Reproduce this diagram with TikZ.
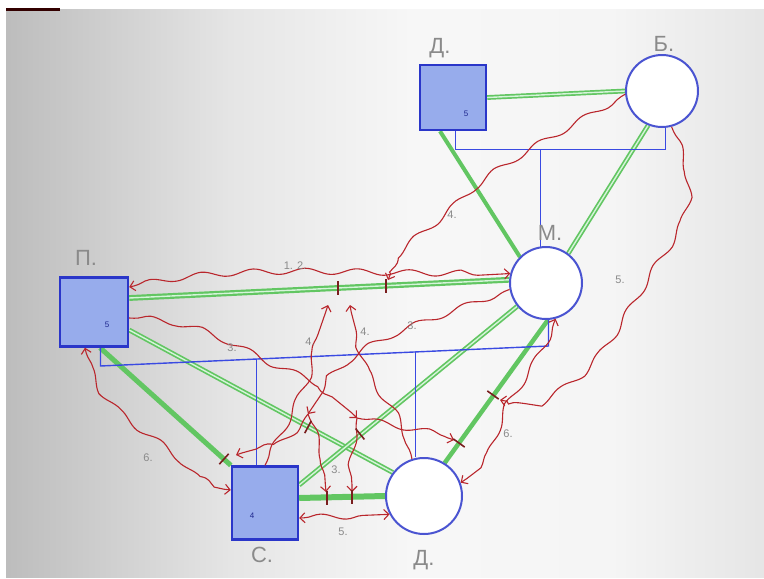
\documentclass[tikz,border=0pt]{standalone}
\usepackage{fontspec}
\setmainfont{Liberation Sans}
\usetikzlibrary{arrows.meta,decorations.pathmorphing,backgrounds,calc}
\definecolor{gr}{HTML}{62C662}
\definecolor{grin}{HTML}{D6F4DA}
\definecolor{bl}{HTML}{2A36C9}
\definecolor{blf}{HTML}{97ACEC}
\definecolor{busc}{HTML}{3A4AE2}
\definecolor{rd}{HTML}{B9262C}
\definecolor{tk}{HTML}{7A1E1E}
\definecolor{lbl}{HTML}{8A8A8A}
\pgfdeclarehorizontalshading{paper}{100bp}{color(0bp)=(black!26); color(25bp)=(black!26); color(40bp)=(black!10); color(52bp)=(black!3); color(65bp)=(black!4); color(75bp)=(black!10); color(100bp)=(black!10)}
\begin{document}
\begin{tikzpicture}[x=1pt,y=-1pt,
  sq/.style={draw=bl, fill=blf, line width=2.4pt, inner sep=0pt},
  circ/.style={circle, draw=bl!85!white, fill=white, line width=2pt, inner sep=0pt},
  gdbl/.style={draw=gr, line width=1.7pt, double=grin, double distance=1.4pt},
  gthick/.style={draw=gr, line width=4.5pt},
  busln/.style={draw=busc, line width=1.4pt},
  wav/.style={draw=rd, line width=1.1pt, decorate,
    decoration={snake, amplitude=3pt, segment length=52pt, pre length=5pt, post length=7pt}},
  >={Straight Barb[length=5pt,width=10pt]},
  tick/.style={draw=tk, line width=1.6pt},
  lab/.style={text=lbl, font=\fontsize{22}{22}\selectfont},
  num/.style={text=lbl, font=\fontsize{11}{11}\selectfont},
  inner/.style={text=bl!70!black, font=\fontsize{8}{8}\selectfont}
]
\useasboundingbox (0,0) rectangle (764,579);

% nodes
\node[sq, minimum width=66pt, minimum height=65pt] (D1) at (453,97.5) {};
\node[circ, minimum size=72pt] (B) at (662,91) {};
\node[circ, minimum size=72pt] (M) at (546,283) {};
\node[sq, minimum width=68pt, minimum height=69pt] (P) at (94,312) {};
\node[sq, minimum width=66pt, minimum height=73pt] (S) at (265,503) {};
\node[circ, minimum size=76pt] (D2) at (424,496) {};

\node[inner] (iD1) at (466,114) {5};
\node[inner] (iP) at (107,325) {5};
\node[inner] (iS) at (252,516) {4};

% labels
\node[lab] (lD1) at (440,48) {Д.};
\node[lab] (lB) at (664,44) {Б.};
\node[lab] (lM) at (550,233) {М.};
\node[lab] (lP) at (86,258) {П.};
\node[lab] (lS) at (262,555) {С.};
\node[lab] (lD2) at (424,560) {Д.};

\begin{scope}[on background layer]
  \fill[white] (0,0) rectangle (764,579);
  \shade[shading=paper] (6,9) rectangle (764,577);
  \fill[black!80!red] (6,8) rectangle (60,10.5);
  % green links
  \draw[gdbl] (D1.east) -- (B.west);
  \draw[gthick, line width=4pt] ([xshift=-13pt]D1.south) -- (M.north west);
  \draw[gdbl] (B.248) -- (M.53);
  \draw[gdbl, line width=2.2pt] ([yshift=14pt]P.east) -- (M.175);
  \draw[gdbl] ([yshift=-18pt]P.east) -- (D2.143);
  \draw[gthick, line width=5pt] ([xshift=6pt]P.south) -- (S.north west);
  \draw[gdbl] ([yshift=18pt]S.east) -- (M.219);
  \draw[gthick, line width=6pt] ([yshift=5pt]S.east) -- (D2.west);
  \draw[gthick, line width=4.5pt] (D2.58) -- (M.273);
  % blue bus lines
  \coordinate (bT) at (540.5,148.5);
  \draw[busln] ([xshift=2.5pt]D1.south) -- ++(0,18.5) -| ([xshift=3.5pt]B.south);
  \draw[busln] (bT |- M.100) -- (bT);
  \coordinate (bL) at (100.5,366);
  \coordinate (bR) at (548.5,346);
  \draw[busln] ([xshift=6.5pt]P.south) -- (bL) -- (bR) -- (bR |- M.south);
  \path (bL) -- (bR) coordinate[pos=0.348] (j1) coordinate[pos=0.703] (j2);
  \draw[busln] (j1) -- (j1 |- S.north);
  \draw[busln] (j2) -- (j2 |- D2.north);
\end{scope}

% tick coordinates
\coordinate (t1) at (338,288);
\coordinate (t2) at (386,286);
\coordinate (t3) at (224,459);
\coordinate (t4) at (308,427);
\coordinate (t5) at (360,434);
\coordinate (t6) at (327,497.7);
\coordinate (t7) at (352,497.3);
\coordinate (t8) at (459,443);
\coordinate (t9) at (493,395);
\coordinate (e1) at (357,418);
\coordinate (f1) at (308,414);

% red routes
% 1, 2
\draw[wav, <->] ([yshift=25pt]P.east) .. controls (240,262) and (400,282) .. (M.165);
% 4 from B
\draw[wav, ->] (B.185) .. controls (575,125) and (505,158) .. (470,195) .. controls (440,225) and (400,245) .. (388,280);
% 4 from S
\draw[wav, ->] (S.north) .. controls (285,425) and (300,400) .. (305,380) .. controls (312,350) and (320,330) .. (328,305);
% 4 from D2
\draw[wav, ->] (D2.108) .. controls (405,420) and (370,400) .. (363,362) .. controls (358,335) and (352,320) .. (350,305);
% 3 from P
\draw[wav, ->] ([yshift=-6pt]P.east) .. controls (190,320) and (230,350) .. (270,368) .. controls (310,385) and (335,395) .. (e1);
\draw[wav, ->] (e1) .. controls (390,425) and (420,428) .. (454,440);
\draw[wav, ->] (e1) .. controls (352,450) and (352,470) .. (352,492);
% 3 from M
\draw[wav, ->] (M.190) .. controls (470,305) and (430,318) .. (400,332) .. controls (360,350) and (330,380) .. (f1);
\draw[wav, ->] (f1) .. controls (290,440) and (265,445) .. (236,455);
\draw[wav, ->] (f1) .. controls (318,440) and (324,465) .. (326,492);
% 5 bottom
\draw[wav, <->] ([yshift=-15pt]S.east) -- (D2.208);
% 6 left
\draw[wav, <->] ([xshift=-9pt]P.south) .. controls (95,400) and (150,420) .. (180,450) .. controls (200,470) and (210,490) .. ([yshift=13pt]S.west);
% 6 right
\draw[wav, <->] (M.285) .. controls (540,360) and (515,380) .. (505,410) .. controls (495,440) and (490,465) .. (D2.20);
% 5 right
\draw[wav, ->] (B.285) .. controls (690,170) and (690,200) .. (660,240) .. controls (620,300) and (600,350) .. (560,375) .. controls (530,395) and (515,405) .. (500,400);

% ticks
\draw[tick] ($(t1)+(0,-7)$) -- ($(t1)+(0,7)$);
\draw[tick] ($(t2)+(0,-7)$) -- ($(t2)+(0,7)$);
\draw[tick] ($(t3)+(-4.7,5.2)$) -- ($(t3)+(4.7,-5.2)$);
\draw[tick] ($(t4)+(-3.3,6.2)$) -- ($(t4)+(3.3,-6.2)$);
\draw[tick] ($(t5)+(-4.4,-5.4)$) -- ($(t5)+(4.4,5.4)$);
\draw[tick] ($(t6)+(0,-7)$) -- ($(t6)+(0,7)$);
\draw[tick] ($(t7)+(0,-7)$) -- ($(t7)+(0,7)$);
\draw[tick] ($(t8)+(-5.7,-4.1)$) -- ($(t8)+(5.7,4.1)$);
\draw[tick] ($(t9)+(-5.7,-4.1)$) -- ($(t9)+(5.7,4.1)$);

% route numbers
\node[num] (n12) at (295,266) {1. 2.};
\node[num] (n4a) at (452,215) {4.};
\node[num] (n4b) at (310,342) {4.};
\node[num] (n4c) at (365,332) {4.};
\node[num] (n3a) at (232,348) {3.};
\node[num] (n3b) at (412,326) {3.};
\node[num] (n3c) at (336,470) {3.};
\node[num] (n5a) at (343,532) {5.};
\node[num] (n6a) at (148,458) {6.};
\node[num] (n6b) at (508,434) {6.};
\node[num] (n5b) at (620,280) {5.};
\end{tikzpicture}
\end{document}
